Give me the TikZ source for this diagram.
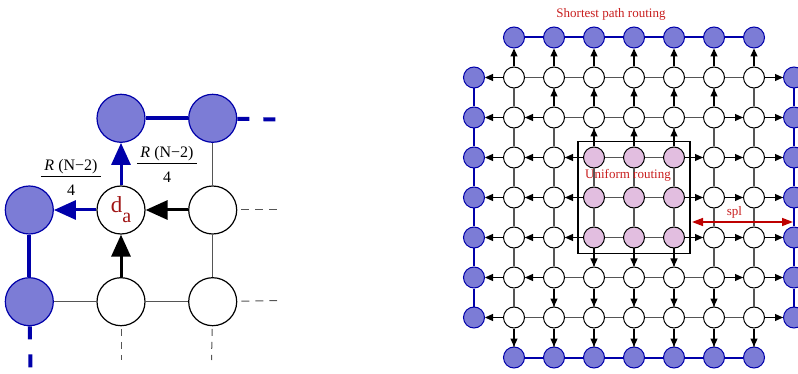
\documentclass[tikz,border=0pt]{standalone}
\usepackage{fontspec}
\setmainfont{Liberation Serif}
\usetikzlibrary{arrows.meta, positioning, fit}
\definecolor{rimfill}{RGB}{124,124,214}
\definecolor{rimblue}{RGB}{0,0,170}
\definecolor{unifill}{RGB}{226,190,224}
\definecolor{labelred}{RGB}{200,30,30}
\definecolor{darkred}{RGB}{160,20,20}
\definecolor{splred}{RGB}{190,0,0}
\definecolor{linkgray}{RGB}{85,85,85}
\tikzset{
    hub/.style={circle, draw=black, fill=white, line width=1pt, minimum size=21pt, inner sep=0pt},
    rim/.style={hub, draw=rimblue, fill=rimfill},
    uni/.style={hub, fill=unifill},
    link/.style={draw=linkgray, line width=1.3pt},
    wall/.style={draw=rimblue, line width=2pt},
    route/.style={line width=1.1pt, -{Triangle[length=8pt,width=7pt]}},
    bighub/.style={circle, draw=black, fill=white, line width=1.2pt, minimum size=48pt, inner sep=0pt},
    bigrim/.style={bighub, draw=rimblue, fill=rimfill},
    bigwall/.style={draw=rimblue, line width=4pt},
    bigroute/.style={line width=3pt, -{Triangle[length=22pt,width=19pt]}},
    stub/.style={draw=linkgray, line width=1pt, dash pattern=on 8pt off 6pt},
    caption/.style={text=labelred, font=\fontsize{13}{13}\selectfont}
}
% R(N-2)/4 as a stacked fraction in text font
\newcommand{\rnfrac}{{\fontsize{16}{16}\selectfont\setlength{\arrayrulewidth}{1pt}\setlength{\tabcolsep}{3.5pt}%
    \begin{tabular}{c}\textit{R} (N−2)\\\hline\rule{0pt}{19pt}4\end{tabular}}}

\begin{document}
\begin{tikzpicture}[x=1pt, y=-1pt, node distance=42.5pt]
    \useasboundingbox (0,0) rectangle (798,374);

    % close-up around node d_a
    \node (da) [bighub, text=darkred, font=\fontsize{23}{23}\selectfont] at (121,210) {d\raisebox{-10pt}{\fontsize{20}{20}\selectfont a}};
    \node (nup) [bigrim, above=of da] {};
    \node (nleft) [bigrim, left=of da] {};
    \node (nright) [bighub, right=of da] {};
    \node (nupright) [bigrim, above=of nright] {};
    \node (ndown) [bighub, below=of da] {};
    \node (ndownleft) [bigrim, below=of nleft] {};
    \node (ndownright) [bighub, below=of nright] {};

    \coordinate (toptail) at (277,119.5);
    \coordinate (lefttail) at (30.5,368);
    \coordinate (midtail) at (277,210);
    \coordinate (lowtail) at (277,300.5);
    \coordinate (downtail) at (121,360);
    \coordinate (downrighttail) at (211.5,360);

    \draw [bigwall] (nup) -- (nupright);
    \draw [bigwall] (nleft) -- (ndownleft);
    \draw [bigwall, dash pattern=on 12pt off 14pt] (nupright) -- (toptail);
    \draw [bigwall, dash pattern=on 13pt off 15pt] (ndownleft) -- (lefttail);
    \draw [link] (nupright) -- (nright);
    \draw [link] (nright) -- (ndownright);
    \draw [link] (ndownleft) -- (ndown);
    \draw [link] (ndown) -- (ndownright);
    \draw [stub, shorten <=4pt] (nright) -- (midtail);
    \draw [stub, shorten <=4pt] (ndownright) -- (lowtail);
    \draw [stub, dash pattern=on 7pt off 6pt, shorten <=2.5pt] (ndown) -- (downtail);
    \draw [stub, dash pattern=on 7pt off 6pt, shorten <=2.5pt] (ndownright) -- (downrighttail);

    \draw [bigroute, rimblue] (da) -- (nleft);
    \draw [bigroute, rimblue] (da) -- (nup);
    \draw [bigroute] (nright) -- (da);
    \draw [bigroute] (ndown) -- (da);

    \node (fracleft) at (71,180) {\rnfrac};
    \node (fracup) at (167,167) {\rnfrac};

    % mesh: g-i-j, border ring at i or j = 0 and 8
    \foreach \i in {1,...,7}{
        \node (g-\i-0) [rim] at (474+40*\i, 37.5) {};
        \node (g-\i-8) [rim] at (474+40*\i, 357.5) {};
        \node (g-0-\i) [rim] at (474, 37.5+40*\i) {};
        \node (g-8-\i) [rim] at (794, 37.5+40*\i) {};
        \foreach \j in {1,...,7}{
            \pgfmathtruncatemacro\inbox{(\i>2)&&(\i<6)&&(\j>2)&&(\j<6)}
            \ifnum\inbox=1 \def\kind{uni}\else\def\kind{hub}\fi
            \node (g-\i-\j) [\kind] at (474+40*\i, 37.5+40*\j) {};
        }
    }

    \foreach \a [count=\b from 2] in {1,...,6}{
        \draw [wall] (g-\a-0) -- (g-\b-0);
        \draw [wall] (g-\a-8) -- (g-\b-8);
        \draw [wall] (g-0-\a) -- (g-0-\b);
        \draw [wall] (g-8-\a) -- (g-8-\b);
    }

    \foreach \i in {1,...,7}{
        \foreach \j in {1,...,7}{
            \pgfmathtruncatemacro\ni{\i+1}
            \pgfmathtruncatemacro\nj{\j+1}
            \draw [link] (g-\i-\j) -- (g-\ni-\j);
            \draw [link] (g-\i-\j) -- (g-\i-\nj);
        }
    }

    % each node sends towards its closest border(s)
    \foreach \i in {1,...,7}{
        \foreach \j in {1,...,7}{
            \pgfmathtruncatemacro\dmin{min(\i,8-\i,\j,8-\j)}
            \pgfmathtruncatemacro\pi{\i-1}
            \pgfmathtruncatemacro\ni{\i+1}
            \pgfmathtruncatemacro\pj{\j-1}
            \pgfmathtruncatemacro\nj{\j+1}
            \pgfmathtruncatemacro\dr{8-\i}
            \pgfmathtruncatemacro\dd{8-\j}
            \ifnum\dmin<4
                \ifnum\i=\dmin \draw [route] (g-\i-\j) -- (g-\pi-\j); \fi
                \ifnum\dr=\dmin \draw [route] (g-\i-\j) -- (g-\ni-\j); \fi
                \ifnum\j=\dmin \draw [route] (g-\i-\j) -- (g-\i-\pj); \fi
                \ifnum\dd=\dmin \draw [route] (g-\i-\j) -- (g-\i-\nj); \fi
            \fi
        }
    }

    \node (unibox) [draw, line width=1.3pt, inner sep=5pt, fit=(g-3-3)(g-5-5)] {};
    \node (unilabel) [caption] at (628,175) {Uniform routing};
    \node (splabel) [caption] at (611,14) {Shortest path routing};

    \coordinate (splA) at (692,222);
    \coordinate (splB) at (793,222);
    \draw [splred, line width=1.5pt, {Triangle[length=11pt,width=8pt]}-{Triangle[length=11pt,width=8pt]}] (splA) -- node [caption, above, pos=0.42] {spl} (splB);
\end{tikzpicture}
\end{document}
